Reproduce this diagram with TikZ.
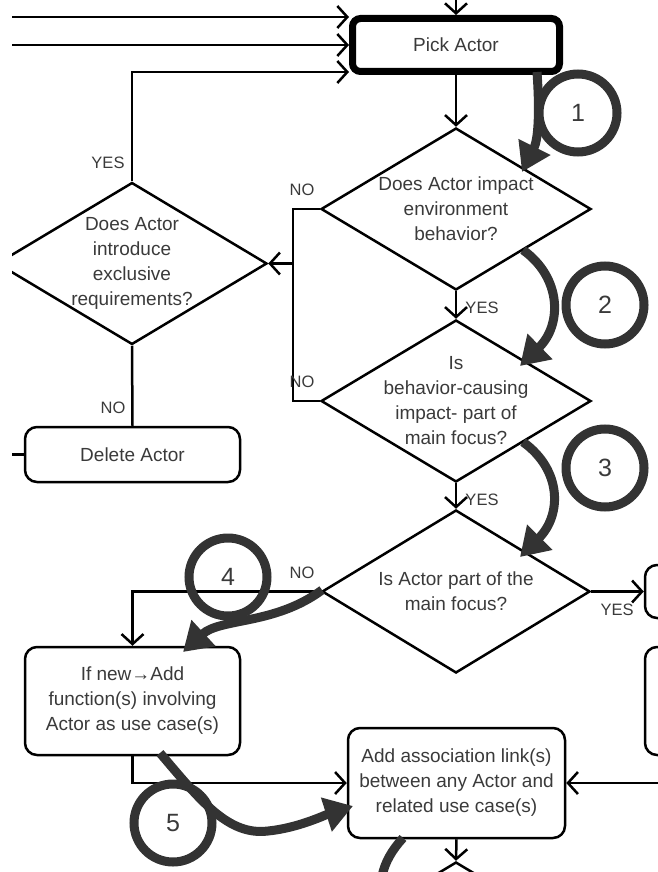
\documentclass[tikz,border=0pt]{standalone}
\usepackage{fontspec}
\setmainfont{Liberation Sans}
\usetikzlibrary{shapes.geometric,arrows.meta}
\definecolor{ink}{HTML}{333333}
\definecolor{txt}{HTML}{3A3A3A}
\begin{document}
\begin{tikzpicture}[x=1pt,y=-1pt,
  flow/.style={line width=2.5pt, draw=black},
  arr/.style={flow, -{Straight Barb[length=10pt,width=22pt]}},
  box/.style={draw, line width=2.5pt, rounded corners=12pt, align=center, text=txt,
    font=\fontsize{19}{25}\selectfont, inner sep=0pt},
  dia/.style={draw, diamond, line width=2.5pt, minimum width=270pt, minimum height=162pt, inner sep=0pt},
  dtext/.style={align=center, text=txt, font=\fontsize{19}{25}\selectfont, inner sep=0pt},
  lbl/.style={text=txt, font=\fontsize{16.5}{18}\selectfont, inner sep=0pt},
  circ/.style={draw=ink, circle, line width=9pt, minimum size=78pt, inner sep=0pt, text=txt,
    font=\fontsize{25}{25}\selectfont},
  ann/.style={draw=ink, line width=9pt, -{Triangle[length=28pt,width=34pt]}},
]
\useasboundingbox (0,0) rectangle (658,872);
\clip (12,0) rectangle (658,872);

% ---- process boxes and decisions ----
\node[box, line width=7pt, rounded corners=8pt, minimum width=207pt, minimum height=53pt] (pick) at (456,45) {Pick Actor};

\node[dia] (d1) at (456,209) {};
\node[dtext] (t1) at (d1) {Does Actor impact\\environment\\behavior?};

\node[dia] (d2) at (456,401) {};
\node[dtext] (t2) at (d2) {Is\\behavior-causing\\impact- part of\\main focus?};

\node[dia] (dL) at (132,263.5) {};
\node[dtext] (tL) at (dL) {Does Actor\\introduce\\exclusive\\requirements?};

\node[dia, minimum width=268pt, minimum height=163pt] (d3) at (456,591.5) {};
\node[dtext] (t3) at (d3) {Is Actor part of the\\main focus?};

\node[dia] (d4) at (456,943) {};

\node[box, minimum width=215pt, minimum height=55pt] (del) at (132.5,454.5) {Delete Actor};
\node[box, minimum width=215pt, minimum height=108pt] (ifnew) at (132.5,701) {If new→Add\\function(s) involving\\Actor as use case(s)};
\node[box, minimum width=217pt, minimum height=110pt] (assoc) at (456.5,783) {Add association link(s)\\between any Actor and\\related use case(s)};
\node[box, minimum width=60pt, minimum height=53pt] (r1) at (675,591.5) {};
\node[box, minimum width=60pt, minimum height=108pt] (r2) at (675,701) {};

% ---- flow connectors ----
\coordinate (topin) at (456,0);
\draw[arr] (topin) -- (pick.north);
\coordinate (l1) at (12,17);
\draw[arr] (l1) -- (l1 -| pick.west);
\coordinate (l2) at (12,45);
\draw[arr] (l2) -- (pick.west);
\coordinate (l3) at (132,72);
\draw[arr] (dL.north) -- (l3) -- (l3 -| pick.west);

\draw[arr] (pick.south) -- (d1.north);
\draw[arr] (d1.south) -- (d2.north);
\draw[arr] (d2.south) -- (d3.north);

\coordinate (j1) at (293,209);
\coordinate (j2) at (293,401);
\coordinate (j3) at (293,263.5);
\draw[flow] (d1.west) -- (j1) -- (j2) -- (d2.west);
\draw[arr] (j3) -- (dL.east);

\draw[flow] (dL.south) -- (del.north);
\coordinate (lin) at (12,454.5);
\draw[flow] (lin) -- (del.west);

\coordinate (j4) at (132.5,591.5);
\draw[arr] (d3.west) -- (j4) -- (ifnew.north);
\draw[arr] (d3.east) -- (r1.west);

\coordinate (j5) at (132.5,783);
\draw[arr] (ifnew.south) -- (j5) -- (assoc.west);
\coordinate (rin) at (660,783);
\draw[arr] (rin) -- (assoc.east);
\draw[arr] (assoc.south) -- (d4.north);

% ---- branch labels ----
\node[lbl] (yL) at (108,163) {YES};
\node[lbl] (n1) at (302,190) {NO};
\node[lbl] (n2) at (302,382) {NO};
\node[lbl] (y1) at (482,308) {YES};
\node[lbl] (y2) at (482,500) {YES};
\node[lbl] (nL) at (113,408) {NO};
\node[lbl] (n3) at (302,573) {NO};
\node[lbl] (y3) at (617,610) {YES};

% ---- numbered walkthrough ----
\node[circ] (c1) at (578,113) {1};
\node[circ] (c2) at (605,305) {2};
\node[circ] (c3) at (605,468) {3};
\node[circ] (c4) at (228,577) {4};
\node[circ] (c5) at (173,823) {5};

\coordinate (s1) at (537,72);
\coordinate (e1) at (522,172);
\draw[ann] (s1) .. controls (540,115) and (538,140) .. (e1);
\coordinate (s2) at (523,250);
\coordinate (e2) at (520,366);
\draw[ann] (s2) .. controls (562,278) and (562,325) .. (e2);
\coordinate (s3) at (523,442);
\coordinate (e3) at (520,557);
\draw[ann] (s3) .. controls (562,470) and (562,515) .. (e3);
\coordinate (s4) at (322,590);
\coordinate (e4) at (183,652);
\draw[ann] (s4) .. controls (275,625) and (220,618) .. (e4);
\coordinate (s5) at (160,753);
\coordinate (m5) at (268,831);
\coordinate (e5) at (353,806);
\draw[ann] (s5) .. controls (200,800) and (228,836) .. (m5) .. controls (298,828) and (325,815) .. (e5);
\coordinate (s6) at (403,838);
\coordinate (e6) at (382,876);
\draw[draw=ink, line width=9pt] (s6) .. controls (392,850) and (385,862) .. (e6);
\end{tikzpicture}
\end{document}
